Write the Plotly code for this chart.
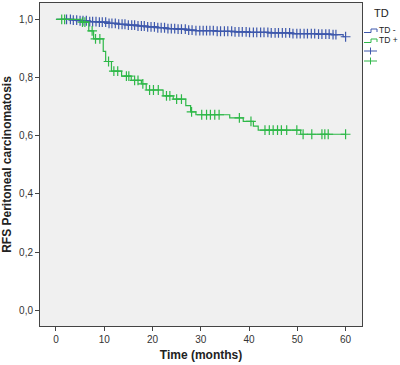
import numpy as np
import plotly.graph_objects as go

# ---- data ----
blue_times = [0, 3.5, 5.0, 7.0, 9.0, 11.0, 13.0, 15.0, 17.0, 19.0, 21.0, 23.0, 25.0, 27.0,
              29.0, 33.0, 37.0, 40.0, 44.0, 49.0, 54.0, 57.0, 59.5, 60.0]
blue_surv = [1.0, 0.997, 0.995, 0.992, 0.990, 0.986, 0.983, 0.980, 0.977, 0.974, 0.971, 0.968,
             0.966, 0.963, 0.961, 0.959, 0.957, 0.955, 0.953, 0.951, 0.949, 0.947, 0.940, 0.940]
blue_censor = [2.2, 3.0, 3.6, 4.3, 5.0, 5.6, 6.3, 7.0, 7.6, 8.3, 9.0, 9.6, 10.3, 11.0, 11.6,
               12.3, 13.0, 13.7, 14.3, 15.0, 15.7, 16.3, 17.0, 17.7, 18.3, 19.0, 19.7, 20.4,
               21.1, 21.8, 22.5, 23.2, 23.9, 24.6, 25.3, 26.0, 26.8, 27.5, 28.2, 29.0, 29.8,
               30.5, 31.2, 31.9, 32.6, 33.4, 34.1, 34.9, 35.6, 36.4, 37.1, 37.9, 38.6, 39.4,
               40.1, 40.9, 41.6, 42.4, 43.1, 43.9, 44.6, 45.4, 46.1, 46.9, 47.6, 48.4, 49.1,
               49.9, 50.6, 51.4, 52.1, 52.9, 53.6, 54.4, 55.1, 55.9, 56.6, 57.4, 58.0, 60.0]

green_times = [0, 5.2, 6.8, 7.8, 9.8, 10.3, 11.5, 13.6, 15.6, 17.7, 18.7, 22.2, 24.3, 26.9,
               27.9, 29.0, 36.0, 38.8, 40.9, 41.9, 50.7, 60.0]
green_surv = [1.0, 0.99, 0.96, 0.933, 0.89, 0.855, 0.822, 0.805, 0.79, 0.778, 0.757, 0.737,
              0.726, 0.703, 0.682, 0.672, 0.661, 0.649, 0.633, 0.619, 0.605, 0.605]
green_censor = [1.2, 1.8, 5.5, 6.0, 7.5, 8.2, 9.1, 10.9, 12.0, 12.8, 14.6, 15.1, 16.3, 17.0,
                18.0, 19.4, 20.2, 21.2, 22.9, 23.6, 25.0, 26.0, 28.1, 30.2, 31.2, 32.0, 32.9,
                33.8, 38.0, 40.4, 43.3, 44.2, 45.0, 45.9, 46.7, 47.8, 49.9, 51.2, 53.0, 55.1,
                55.7, 56.4, 60.0]

x_ticks = [0, 10, 20, 30, 40, 50, 60]
y_ticks = [0.0, 0.2, 0.4, 0.6, 0.8, 1.0]
y_tick_labels = ["0,0", "0,2", "0,4", "0,6", "0,8", "1,0"]

BLUE = "rgb(62,88,172)"
GREEN = "rgb(46,184,72)"


def lookup(times, surv, pts):
    idx = np.searchsorted(np.array(times), np.array(pts), side="right") - 1
    return [surv[i] for i in idx]


fig = go.Figure()
for times, surv, cens, col in [(blue_times, blue_surv, blue_censor, BLUE),
                               (green_times, green_surv, green_censor, GREEN)]:
    fig.add_trace(go.Scatter(x=times, y=surv, mode="lines", line=dict(color=col, width=1.2, shape="hv"),
                             showlegend=False, hoverinfo="skip"))
    fig.add_trace(go.Scatter(x=cens, y=lookup(times, surv, cens), mode="markers",
                             marker=dict(symbol="cross-thin", size=7, line=dict(color=col, width=1.2)),
                             showlegend=False, hoverinfo="skip"))

axis_common = dict(showgrid=False, zeroline=False, showline=True, mirror=True, linecolor="#444",
                   linewidth=1, ticks="outside", ticklen=4, tickcolor="#444",
                   tickfont=dict(family="Liberation Sans, Arial", size=10, color="#333"))

fig.update_xaxes(range=[-3.3, 63.4], tickvals=x_ticks, **axis_common,
                 title=dict(text="<b>Time (months)</b>", standoff=6,
                            font=dict(family="Liberation Sans, Arial", size=12, color="#222")))
fig.update_yaxes(range=[-0.054, 1.056], tickvals=y_ticks, ticktext=y_tick_labels, **axis_common,
                 title=dict(text="<b>RFS Peritoneal carcinomatosis</b>", standoff=6,
                            font=dict(family="Liberation Sans, Arial", size=12, color="#222")))

# manual legend (pixel positions converted to paper coords)
L, R, T, B = 40, 362, 3, 326
W, H = R - L, B - T
def px(x):
    return (x - L) / W
def py(y):
    return (B - y) / H

shapes = []
for yy, col in [(31, BLUE), (41, GREEN)]:
    path = (f"M {px(364)},{py(yy+1.5)} L {px(371)},{py(yy+1.5)} L {px(371)},{py(yy-2)} "
            f"L {px(377)},{py(yy-2)} L {px(377)},{py(yy+1)}")
    shapes.append(dict(type="path", xref="paper", yref="paper", path=path,
                       line=dict(color=col, width=1)))
for yy, col in [(51, BLUE), (61, GREEN)]:
    shapes.append(dict(type="line", xref="paper", yref="paper", x0=px(364), x1=px(377),
                       y0=py(yy), y1=py(yy), line=dict(color=col, width=1)))
    shapes.append(dict(type="line", xref="paper", yref="paper", x0=px(370.5), x1=px(370.5),
                       y0=py(yy - 3.5), y1=py(yy + 3.5), line=dict(color=col, width=1)))

annotations = [
    dict(text="TD", x=px(381), y=py(13), xref="paper", yref="paper", showarrow=False,
         xanchor="center", yanchor="middle",
         font=dict(family="Liberation Sans, Arial", size=11, color="#222")),
    dict(text="TD -", x=px(377.5), y=py(30), xref="paper", yref="paper", showarrow=False,
         xanchor="left", yanchor="middle",
         font=dict(family="Liberation Sans, Arial", size=8.5, color="#222")),
    dict(text="TD +", x=px(377.5), y=py(40), xref="paper", yref="paper", showarrow=False,
         xanchor="left", yanchor="middle",
         font=dict(family="Liberation Sans, Arial", size=8.5, color="#222")),
]

fig.update_layout(width=400, height=365, margin=dict(l=L, r=400 - R, t=T, b=365 - B),
                  plot_bgcolor="#f0f0f0", paper_bgcolor="white", shapes=shapes,
                  annotations=annotations, showlegend=False)

fig.write_html("out.html", config={"displayModeBar": False},
               post_script="document.body.style.margin='0';")
